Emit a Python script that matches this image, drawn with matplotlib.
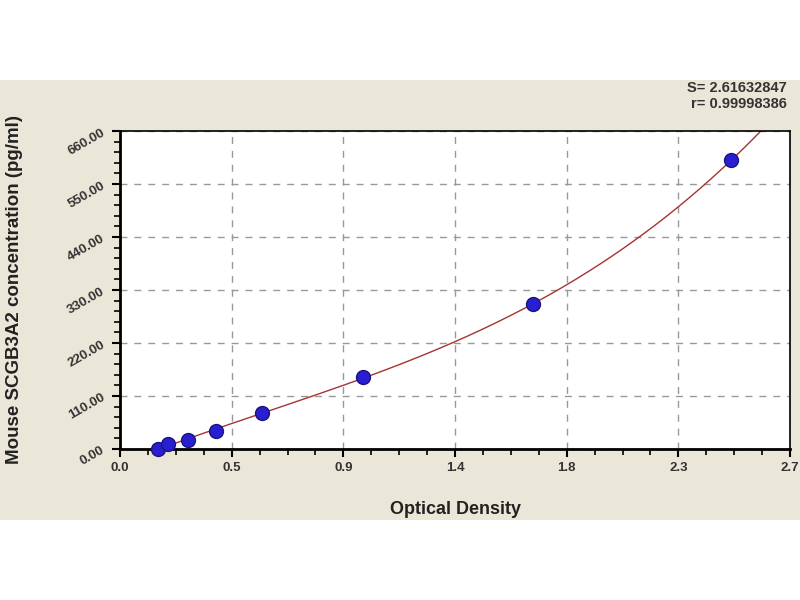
import numpy as np
import matplotlib.pyplot as plt
from matplotlib.patches import Rectangle
from matplotlib.ticker import MultipleLocator

plt.rcParams['font.family'] = ['Liberation Sans', 'DejaVu Sans']

# стандарты: оптическая плотность и концентрация
od = [0.153, 0.194, 0.274, 0.387, 0.573, 0.980, 1.665, 2.464]
conc = [0, 9.375, 18.75, 37.5, 75, 150, 300, 600]

x_ticks = [0.0, 0.45, 0.9, 1.35, 1.8, 2.25, 2.7]
x_labels = ['0.0', '0.5', '0.9', '1.4', '1.8', '2.3', '2.7']
y_ticks = [0, 110, 220, 330, 440, 550, 660]
y_labels = ['0.00', '110.00', '220.00', '330.00', '440.00', '550.00', '660.00']

fig = plt.figure(figsize=(8, 6), dpi=100)
fig.patch.set_facecolor('white')
fig.add_artist(Rectangle((0, 80 / 600), 1, 440 / 600, transform=fig.transFigure,
                         facecolor='#ebe7d8', edgecolor='none', zorder=-10))

ax = fig.add_axes([0.15, 0.2517, 0.8375, 0.53])
ax.set_zorder(1)
ax.set_facecolor('white')

# кривая подгонки по точкам
coef = np.polyfit(od, conc, 3)
xc = np.linspace(od[0], 2.7, 400)
ax.plot(xc, np.polyval(coef, xc), color='#a83232', lw=1.0, zorder=2)
ax.plot(od, conc, 'o', color='#2a1fd0', mec='#1a1480', ms=10, mew=1, zorder=3,
        clip_on=False)

ax.set_xlim(0, 2.7)
ax.set_ylim(0, 660)
ax.set_xticks(x_ticks)
ax.set_xticklabels(x_labels)
ax.set_yticks(y_ticks)
ax.set_yticklabels(y_labels, rotation=30)
ax.xaxis.set_minor_locator(MultipleLocator(0.1125))
ax.yaxis.set_minor_locator(MultipleLocator(22))
ax.tick_params(which='major', length=6, width=1.5, direction='out', labelsize=9.5,
               colors='black', labelcolor='#333333')
ax.tick_params(which='minor', length=4, width=1.2, direction='out')
for lab in ax.get_xticklabels() + ax.get_yticklabels():
    lab.set_fontweight('bold')

ax.grid(True, which='major', linestyle=(0, (5, 5)), color='#999999', lw=1)
for s in ['left', 'bottom']:
    ax.spines[s].set_linewidth(2)
for s in ['top', 'right']:
    ax.spines[s].set_linewidth(1.2)

ax.set_xlabel('Optical Density', fontsize=13, fontweight='bold', color='#222222')
ax.xaxis.set_label_coords(0.5, -0.165)
ax.set_ylabel('Mouse SCGB3A2 concentration (pg/ml)', fontsize=13.5, fontweight='bold',
              color='#222222')
ax.yaxis.set_label_coords(-0.145, 0.5)

fig.text(0.984, 0.853, 'S= 2.61632847', ha='right', va='center', fontsize=10.5,
         fontweight='bold', color='#333333')
fig.text(0.984, 0.826, 'r= 0.99998386', ha='right', va='center', fontsize=10.5,
         fontweight='bold', color='#333333')

fig.savefig('out.png', dpi=100, facecolor=fig.get_facecolor())
